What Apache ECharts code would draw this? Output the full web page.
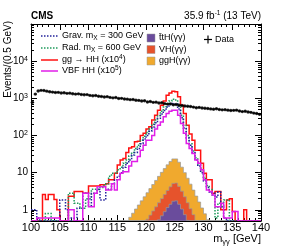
<!DOCTYPE html>
<html><head><meta charset="utf-8">
<script src="https://cdn.jsdelivr.net/npm/echarts@6/dist/echarts.min.js"></script>
<style>html,body{margin:0;padding:0;background:#fff}#c{width:291px;height:246px}</style>
</head><body><div id="c"></div><script>
// ---- binning (m_gg, 0.5 GeV bins from 100 to 140) ----
const BIN_START = 100, BIN_WIDTH = 0.5, N_BINS = 80;
const binCenters = [];
for (let i = 0; i < N_BINS; i++) binCenters.push(BIN_START + (i + 0.5) * BIN_WIDTH);

// ---- data: events per bin ----
const dataCounts = [
 780,1300,1580,1640,1620,1560,1500,1470,1440,1450,
 1390,1410,1360,1380,1330,1300,1320,1270,1250,1260,
 1200,1170,1190,1140,1120,1090,1110,1060,1030,1050,
 990,1000,960,950,920,930,890,880,850,860,
 800,820,780,790,750,760,720,700,710,670,
 680,650,640,620,610,600,580,560,570,550,
 540,530,520,510,525,500,490,495,480,470,
 475,480,455,440,450,430,420,400,390,370];

// ---- single Higgs backgrounds (stacked) ----
const ttH = [
 0,0,0,0,0,0,0,0,0,0, 0,0,0,0,0,0,0,0,0,0, 0,0,0,0,0,0,0,0,0,0, 0,0,0,0,0,0,0,0,0,0,
 0,0,0,0.42,0.54,0.69,0.89,1.15,1.41,1.70,
 1.74,1.41,1.05,0.74,0.52,0.37,0,0,0,0,
 0,0,0,0,0,0,0,0,0,0, 0,0,0,0,0,0,0,0,0,0];
const VH = [
 0,0,0,0,0,0,0,0,0,0, 0,0,0,0,0,0,0,0,0,0, 0,0,0,0,0,0,0,0,0,0,
 0,0,0,0,0,0,0,0,0,0.44,
 0.56,0.72,0.93,0.78,1.01,1.31,1.68,2.16,2.76,3.43,
 3.51,2.86,2.11,1.50,1.03,0.70,0.74,0.51,0.35,0,
 0,0,0,0,0,0,0,0,0,0, 0,0,0,0,0,0,0,0,0,0];
const ggH = [
 0,0,0,0,0,0,0,0,0,0, 0,0,0,0,0,0,0,0,0,0, 0,0,0,0,0,0,0,0,0,0,
 0,0,0,0.49,0.63,0.81,1.05,1.35,1.74,1.80,
 2.32,3.00,3.86,4.97,6.39,8.2,10.3,12.9,15.8,18.3,
 18.2,14.8,10.9,7.76,5.53,3.83,2.65,1.83,1.27,1.12,
 0.78,0.54,0.37,0,0,0,0,0,0,0, 0,0,0,0,0,0,0,0,0,0];

// ---- signals ----
const gravM300 = [
 1.0,1.0,0.6,0,0,0,0,0,0,0,
 1.85,1.85,1.0,0,0.6,0,1.1,1.1,2.8,2.8,
 1.3,2.8,2.8,3.5,1.85,1.85,3.6,3.6,5.0,6.4,
 8,10,14,18,22,30,35,45,60,80,
 100,130,170,220,290,380,470,580,680,730,
 700,520,300,160,85,55,35,22,15,10,
 6,4,3,2.8,2.2,3.0,1.2,0.6,0,0,
 0,0,0,0,0,0,0,0,0,0];
const radM600 = [
 0,0,0,0,0,0.8,0.8,0,0,0,
 0,0,0,2.8,2.8,1.5,1.5,1.1,1.1,2.0,
 2.0,3.6,3.6,3.6,4.0,4.5,5.0,8,9.6,9.6,
 12,14,18,22,28,35,45,55,75,95,
 120,150,200,260,340,450,580,720,850,950,
 900,620,350,190,100,60,38,25,16,11,
 7,4.5,3.5,2.5,0.6,1.5,1.2,1.85,1.85,0,
 0,0,0,0,0,0,0,0,0,0];
const ggHH = [
 0,0,0,0,2.6,1.9,2.6,2.6,1.9,1.0,
 0,0,0,2.3,2.3,3.1,3.1,3.1,2.8,2.8,
 4.4,4.4,4.4,4.4,4.7,4.7,5.0,6.4,6.4,9.6,
 16,22,24,35,46,50,68,70,100,114,
 150,171,260,350,480,650,850,1210,1400,1550,
 1500,1100,650,390,190,110,75,40,40,18,
 9.6,6.4,6.4,2.8,3.1,3.1,1.0,1.0,1.85,2.0,
 0.9,0,0,0,1.0,0,0,0,0,0];
const vbfHH = [
 0.4,0.4,0.6,0.6,0.6,0.6,0.6,0.6,0.6,0.6,
 0,0,0,1.0,1.0,0,0,0,2.8,2.8,
 1.2,1.2,2.8,4.2,4.2,4.2,3.4,3.4,5.0,3.4,
 6.4,9.6,10.6,10.6,15,20,20,27,40,55,
 75,75,100,150,190,230,320,390,450,480,
 480,350,210,114,61,45,33,22,18,12,
 6.4,3.4,3.1,2.5,1.2,1.2,1.5,0.6,0.6,0.6,
 0.9,0.9,0,0,0,0,0,0,0,0];

// ---- axes ----
const X_MIN = 100, X_MAX = 140, X_STEP = 5;
const Y_MIN = 0.5, Y_MAX = 1e5;
const yMajorTicks = [1, 10, 100, 1000, 10000];
const yMinorTicks = [];
[0.1, 1, 10, 100, 1000, 10000].forEach(d => { for (let k = 2; k <= 9; k++) { const v = +(k * d).toPrecision(3); if (v >= Y_MIN && v <= Y_MAX) yMinorTicks.push(v); } });

const FONT = 'Liberation Sans, Arial, Helvetica, sans-serif';
const C = {
  ttH: '#6a4c9c', VH: '#e6532c', ggH: '#f0a92e',
  grav: '#23239a', rad: '#1f9a5c', gg: '#ff1010', vbf: '#e01ee8'
};

function stepPoints(api, vals) {
  const pts = [];
  for (let i = 0; i < vals.length; i++) {
    const lo = BIN_START + i * BIN_WIDTH, hi = lo + BIN_WIDTH;
    const v = Math.max(vals[i], Y_MIN);
    pts.push(api.coord([lo, v]), api.coord([hi, v]));
  }
  return pts;
}
function sumArrays(...arrs) { return arrs[0].map((_, i) => arrs.reduce((s, a) => s + a[i], 0)); }

const stackTotal = sumArrays(ttH, VH, ggH);
const stackMid = sumArrays(ttH, VH);

function filledHist(vals, color) {
  return {
    type: 'custom', coordinateSystem: 'cartesian2d', clip: true, silent: true,
    data: [[BIN_START, Y_MIN]],
    renderItem: (p, api) => {
      const pts = stepPoints(api, vals);
      pts.unshift(api.coord([BIN_START, Y_MIN]));
      pts.push(api.coord([BIN_START + vals.length * BIN_WIDTH, Y_MIN]));
      return { type: 'polygon', shape: { points: pts }, style: { fill: color, stroke: '#9a9a9a', lineWidth: 0.7 } };
    }
  };
}
function lineHist(vals, color, dash, width) {
  return {
    type: 'custom', coordinateSystem: 'cartesian2d', clip: true, silent: true,
    data: [[BIN_START, Y_MIN]],
    renderItem: (p, api) => ({
      type: 'polyline', shape: { points: stepPoints(api, vals) },
      style: { fill: null, stroke: color, lineWidth: width, lineDash: dash }
    })
  };
}

const chart = echarts.init(document.getElementById('c'), null, { renderer: 'canvas' });
const sup = { fontSize: 6.5, verticalAlign: 'top', fontFamily: FONT, lineHeight: 12 };
const sub = { fontSize: 6.5, verticalAlign: 'bottom', fontFamily: FONT, lineHeight: 12 };
function tx(x, y, text, size, extra) {
  return Object.assign({ type: 'text', x: x, y: y, style: Object.assign({
    text: text, fill: '#000', font: size + 'px ' + FONT, verticalAlign: 'middle',
    rich: { n: { fontSize: size, fontFamily: FONT, lineHeight: 12 }, sup: sup, sub: sub }
  }, extra || {}) });
}
function legLine(y, color, dash, w) {
  return { type: 'line', shape: { x1: 41, y1: y, x2: 58, y2: y }, style: { stroke: color, lineWidth: w, lineDash: dash } };
}
function legBox(y, color) {
  return { type: 'rect', shape: { x: 147, y: y - 4, width: 8, height: 8 }, style: { fill: color, stroke: '#9a9a9a', lineWidth: 0.5 } };
}

const xAxisBase = {
  type: 'value', min: X_MIN, max: X_MAX, interval: X_STEP, gridIndex: 0,
  axisLine: { show: true, onZero: false, lineStyle: { color: '#000', width: 1 } },
  axisTick: { inside: true, length: 6, lineStyle: { color: '#000' } },
  minorTick: { show: true, splitNumber: 5, length: 3, lineStyle: { color: '#000' } },
  splitLine: { show: false }
};
function yAx(pos, ticks, len, labels, line) {
  return {
    type: 'log', logBase: 10, min: Y_MIN, max: Y_MAX, position: pos, gridIndex: 0,
    axisLine: { show: line, onZero: false, lineStyle: { color: '#000', width: 1 } },
    axisTick: { show: true, inside: true, length: len, customValues: ticks, lineStyle: { color: '#000' } },
    axisLabel: labels ? {
      show: true, customValues: ticks, margin: 3, color: '#000',
      formatter: v => (v === 1 ? '{b|1}' : v === 10 ? '{b|10}' : '{b|10}{s|' + Math.round(Math.log10(v)) + '}'),
      rich: { b: { fontSize: 10, fontFamily: FONT, lineHeight: 12 }, s: { fontSize: 7, fontFamily: FONT, verticalAlign: 'top', lineHeight: 12 } }
    } : { show: false },
    splitLine: { show: false }, minorTick: { show: false }
  };
}

chart.setOption({
  animation: false,
  backgroundColor: '#fff',
  grid: { left: 31, top: 24, width: 230, height: 197, containLabel: false },
  xAxis: [
    Object.assign({}, xAxisBase, { position: 'bottom',
      axisLabel: { show: true, margin: 1, fontSize: 11, fontFamily: FONT, color: '#000' } }),
    Object.assign({}, xAxisBase, { position: 'top', axisLabel: { show: false } })
  ],
  yAxis: [
    yAx('left', yMajorTicks, 6, true, true),
    yAx('left', yMinorTicks, 3, false, false),
    yAx('right', yMajorTicks, 6, false, true),
    yAx('right', yMinorTicks, 3, false, false)
  ],
  series: [
    filledHist(stackTotal, C.ggH),
    filledHist(stackMid, C.VH),
    filledHist(ttH, C.ttH),
    lineHist(ggHH, C.gg, null, 1.5),
    lineHist(radM600, C.rad, [1.5, 1.5], 1.5),
    lineHist(gravM300, C.grav, [1.5, 1.5], 1.5),
    lineHist(vbfHH, C.vbf, null, 1.5),
    {
      type: 'custom', coordinateSystem: 'cartesian2d', clip: true, silent: true,
      data: binCenters.map((x, i) => [x, dataCounts[i]]),
      renderItem: (p, api) => {
        const x = api.value(0), v = api.value(1), e = Math.sqrt(v);
        const a = api.coord([x - BIN_WIDTH / 2, v]), b = api.coord([x + BIN_WIDTH / 2, v]);
        const t = api.coord([x, v + e]), u = api.coord([x, v - e]);
        return { type: 'group', children: [
          { type: 'line', shape: { x1: a[0], y1: a[1], x2: b[0], y2: b[1] }, style: { stroke: '#000', lineWidth: 1 } },
          { type: 'line', shape: { x1: t[0], y1: t[1], x2: u[0], y2: u[1] }, style: { stroke: '#000', lineWidth: 1 } }
        ] };
      }
    },
    {
      type: 'scatter', data: binCenters.map((x, i) => [x, dataCounts[i]]),
      symbol: 'circle', symbolSize: 3.4, itemStyle: { color: '#000' }, silent: true
    }
  ],
  graphic: [
    tx(31, 16, 'CMS', 10, { font: 'bold 10px ' + FONT }),
    tx(261, 16, '{n|35.9 fb}{sup|-1}{n| (13 TeV)}', 10, { align: 'right' }),
    { type: 'text', x: 8, y: 21, rotation: Math.PI / 2,
      style: { text: 'Events/(0.5 GeV)', font: '10px ' + FONT, fill: '#000', align: 'right', verticalAlign: 'middle' } },
    tx(261, 239, '{n|m}{sub|γγ}{n| [GeV]}', 11, { align: 'right', rich: { n: { fontSize: 11, fontFamily: FONT, lineHeight: 13 }, sub: { fontSize: 7.5, fontFamily: FONT, verticalAlign: 'bottom', lineHeight: 13 } } }),
    legLine(36, C.grav, [1.5, 1.5], 1.5),
    legLine(48, C.rad, [1.5, 1.5], 1.5),
    legLine(60, C.gg, null, 1.5),
    legLine(71, C.vbf, null, 1.5),
    tx(62, 36, '{n|Grav. m}{sub|X}{n| = 300 GeV}', 9),
    tx(62, 48, '{n|Rad. m}{sub|X}{n| = 600 GeV}', 9),
    tx(62, 60, '{n|gg → HH (x10}{sup|4}{n|)}', 9),
    tx(62, 71, '{n|VBF HH (x10}{sup|5}{n|)}', 9),
    legBox(38, C.ttH), legBox(49.5, C.VH), legBox(61, C.ggH),
    tx(159, 38, 't\u0304tH(γγ)', 9),
    tx(159, 49.5, 'VH(γγ)', 9),
    tx(159, 61, 'ggH(γγ)', 9),
    { type: 'line', shape: { x1: 204, y1: 39.5, x2: 212, y2: 39.5 }, style: { stroke: '#000', lineWidth: 1.2 } },
    { type: 'line', shape: { x1: 208, y1: 35.5, x2: 208, y2: 43.5 }, style: { stroke: '#000', lineWidth: 1.2 } },
    tx(215, 39.5, 'Data', 9)
  ]
});
</script></body></html>
